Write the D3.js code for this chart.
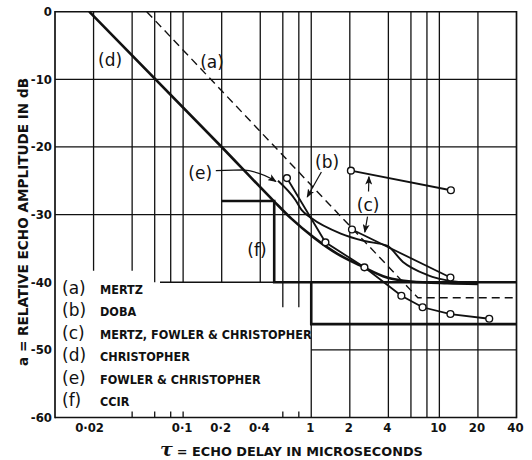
<!DOCTYPE html>
<html><head><meta charset="utf-8">
<script src="https://cdn.jsdelivr.net/npm/d3@7"></script>
<style>body{margin:0;background:#fff} svg{display:block}</style>
</head><body><svg id="c" width="532" height="460"></svg>
<script>
// ---- data ----
const xTickValues = [0.02, 0.1, 0.2, 0.4, 1, 2, 4, 10, 20, 40];
const xTickLabels = ["0·02", "0·1", "0·2", "0·4", "1", "2", "4", "10", "20", "40"];
const yTickValues = [0, -10, -20, -30, -40, -50, -60];
const yTickLabels = ["0", "-10", "-20", "-30", "-40", "-50", "-60"];
const gridDelays = [0.02, 0.04, 0.06, 0.08, 0.1, 0.2, 0.4, 0.6, 0.8, 1, 2, 4, 6, 8, 10, 20];
const minorTickDelays = [0.04, 0.06, 0.08, 0.1, 0.6, 0.8];
const legendKeys = ["(a)", "(b)", "(c)", "(d)", "(e)", "(f)"];
const legendNames = ["MERTZ", "DOBA", "MERTZ, FOWLER & CHRISTOPHER", "CHRISTOPHER", "FOWLER & CHRISTOPHER", "CCIR"];

// (a) Mertz – dashed
const curveA = [[0.052, 0], [6.8, -42.3], [40, -42.3]];
// (d) Christopher – thick
const curveD = [[0.0185, 0], [0.2, -20], [0.51, -28], [0.7, -30.6], [1.05, -33.4], [1.6, -35.8], [2.4, -37.5], [3.9, -39.3], [6, -39.9], [11.5, -40.15], [20, -40.25]];
// (e) Fowler & Christopher
const curveE = [[0.55, -25], [0.75, -27.8], [0.84, -29.3], [1.0, -30.5], [1.7, -32.8], [2.6, -33.9], [3.9, -34.6], [5.2, -37], [8, -38.9], [13, -39.9], [20, -40.2]];
// (b)/(c) measured points
const curveB = [[0.646, -24.6], [1.29, -34.1], [2.6, -37.8], [5.05, -42], [7.4, -43.7], [12.2, -44.7], [24.5, -45.4]];
const curveC1 = [[2.04, -23.5], [12.3, -26.4]];
const curveC2 = [[2.08, -32.2], [12.2, -39.3]];
// (f) CCIR step
const curveF = [[0.2, -28], [0.514, -28], [0.514, -40], [1, -40], [1, -46.2], [40, -46.2]];
const ccirUpper = [[1, -40], [40, -40]];

// ---- scales ----
const x = d3.scaleLog().domain([0.01, 40]).range([55, 516.5]);
const y = d3.scaleLinear().domain([0, -60]).range([11.7, 417.5]);
const svg = d3.select("#c");
const FONT = "'DejaVu Sans Condensed', 'DejaVu Sans', sans-serif";

svg.append("defs").append("marker")
  .attr("id", "arr").attr("viewBox", "0 0 10 8").attr("refX", 9).attr("refY", 4)
  .attr("markerWidth", 9).attr("markerHeight", 7).attr("markerUnits", "userSpaceOnUse").attr("orient", "auto")
  .append("path").attr("d", "M0,0 L10,4 L0,8 L2.5,4 Z").attr("fill", "#111");

const g = svg.append("g").attr("stroke", "#111").attr("fill", "none");

// vertical grid
function gridBottom(t) {
  if (t >= 1) return -60;
  if (t === 0.6 || t === 0.8) return -43.7;
  if (t < 0.05) return -38.3;
  return -40;
}
g.selectAll(".vg").data(gridDelays).join("line")
  .attr("x1", d => x(d)).attr("x2", d => x(d))
  .attr("y1", y(0)).attr("y2", d => y(gridBottom(d)))
  .attr("stroke-width", 1.3);

// horizontal grid
const hLines = [[0.01, 40, 0], [0.01, 40, -10], [0.01, 40, -20], [0.01, 40, -30], [0.066, 1, -40], [1, 40, -50], [0.01, 40, -60]];
g.selectAll(".hg").data(hLines).join("line")
  .attr("x1", d => x(d[0])).attr("x2", d => x(d[1]))
  .attr("y1", d => y(d[2])).attr("y2", d => y(d[2]))
  .attr("stroke-width", d => (d[2] === 0 || d[2] === -60) ? 1.6 : 1.3);

// frame verticals
[0.01, 40].forEach(t => g.append("line").attr("x1", x(t)).attr("x2", x(t)).attr("y1", y(0) - 0.8).attr("y2", y(-60) + 0.8).attr("stroke-width", 1.7));

// minor ticks at bottom
g.selectAll(".mt").data(minorTickDelays).join("line")
  .attr("x1", d => x(d)).attr("x2", d => x(d))
  .attr("y1", y(-60)).attr("y2", y(-60) - 6).attr("stroke-width", 1.3);

const line = d3.line().x(d => x(d[0])).y(d => y(d[1]));
const smooth = d3.line().x(d => x(d[0])).y(d => y(d[1])).curve(d3.curveMonotoneX);

// (f) CCIR
g.append("path").attr("d", line(curveF)).attr("stroke-width", 2.6).attr("stroke-linejoin", "miter");
g.append("path").attr("d", line(ccirUpper)).attr("stroke-width", 2.4);

// (a) dashed
g.append("path").attr("d", line(curveA)).attr("stroke-width", 1.4).attr("stroke-dasharray", "8,5");

// (d)
g.append("path").attr("d", smooth(curveD)).attr("stroke-width", 2.6);
// (e)
g.append("path").attr("d", smooth(curveE)).attr("stroke-width", 1.9);
// measured curves
[curveB, curveC1, curveC2].forEach(c => {
  g.append("path").attr("d", line(c)).attr("stroke-width", 1.8);
});
[curveB, curveC1, curveC2].forEach(c => {
  g.selectAll(null).data(c).join("circle")
    .attr("cx", d => x(d[0])).attr("cy", d => y(d[1])).attr("r", 3.4)
    .attr("fill", "#fff").attr("stroke-width", 1.4);
});

// ---- text ----
const t = svg.append("g").attr("fill", "#111").attr("font-family", FONT);

// y tick labels
t.selectAll(".yl").data(yTickValues).join("text")
  .attr("x", 52).attr("y", d => y(d) + 4.5).attr("text-anchor", "end")
  .attr("font-size", 13).attr("font-weight", "bold")
  .text((d, i) => yTickLabels[i]);

// x tick labels
t.selectAll(".xl").data(xTickValues).join("text")
  .attr("x", d => x(d) - (d === 0.02 ? 4 : 1)).attr("y", 432).attr("text-anchor", "middle")
  .attr("font-size", 13).attr("font-weight", "bold")
  .text((d, i) => xTickLabels[i]);

// x title
const xt = t.append("text").attr("x", 160).attr("y", 456).attr("font-weight", "bold");
xt.append("tspan").attr("font-size", 19).attr("font-style", "italic").attr("font-family", "'DejaVu Serif', serif").text("τ");
xt.append("tspan").attr("font-size", 13).attr("dx", 4).text("= ECHO DELAY IN MICROSECONDS")
  .attr("textLength", 246).attr("lengthAdjust", "spacingAndGlyphs");

// y title
t.append("text").attr("transform", "translate(28,222) rotate(-90)")
  .attr("text-anchor", "middle").attr("font-size", 14).attr("font-weight", "bold")
  .attr("textLength", 288).attr("lengthAdjust", "spacingAndGlyphs")
  .text("a = RELATIVE ECHO AMPLITUDE IN dB");

// legend
legendKeys.forEach((k, i) => {
  const yy = 294 + i * 22.4;
  t.append("text").attr("x", 62).attr("y", yy).attr("font-size", 17).attr("font-family", "'DejaVu Sans', sans-serif").text(k);
  t.append("text").attr("x", 100).attr("y", yy).attr("font-size", 12.5).attr("font-weight", "bold").text(legendNames[i]);
});

// in-plot labels
const lab = (s, px, py) => t.append("text").attr("x", px).attr("y", py).attr("text-anchor", "middle")
  .attr("font-size", 17).attr("font-family", "'DejaVu Sans', sans-serif").text(s);
lab("(d)", x(0.0269), y(-8));
lab("(a)", x(0.168), y(-8.3));
lab("(e)", x(0.136), y(-24.7));
lab("(b)", x(1.33), y(-23.1));
lab("(c)", x(2.78), y(-29.4));
lab("(f)", x(0.377), y(-36.1));

// arrows
const a = svg.append("g").attr("stroke", "#111").attr("fill", "none").attr("stroke-width", 1.2);
a.append("path").attr("d", `M${x(0.18)},${y(-23.5)} L${x(0.29)},${y(-23.4)} Q${x(0.4)},${y(-23.6)} ${x(0.53)},${y(-25.1)}`).attr("marker-end", "url(#arr)");
a.append("path").attr("d", `M${x(1.2)},${y(-23.7)} L${x(0.93)},${y(-27.4)}`).attr("marker-end", "url(#arr)");
a.append("path").attr("d", `M${x(2.8)},${y(-26.6)} L${x(2.82)},${y(-24.4)}`).attr("marker-end", "url(#arr)");
a.append("path").attr("d", `M${x(2.75)},${y(-30.3)} L${x(2.62)},${y(-32.6)}`).attr("marker-end", "url(#arr)");
</script></body></html>
